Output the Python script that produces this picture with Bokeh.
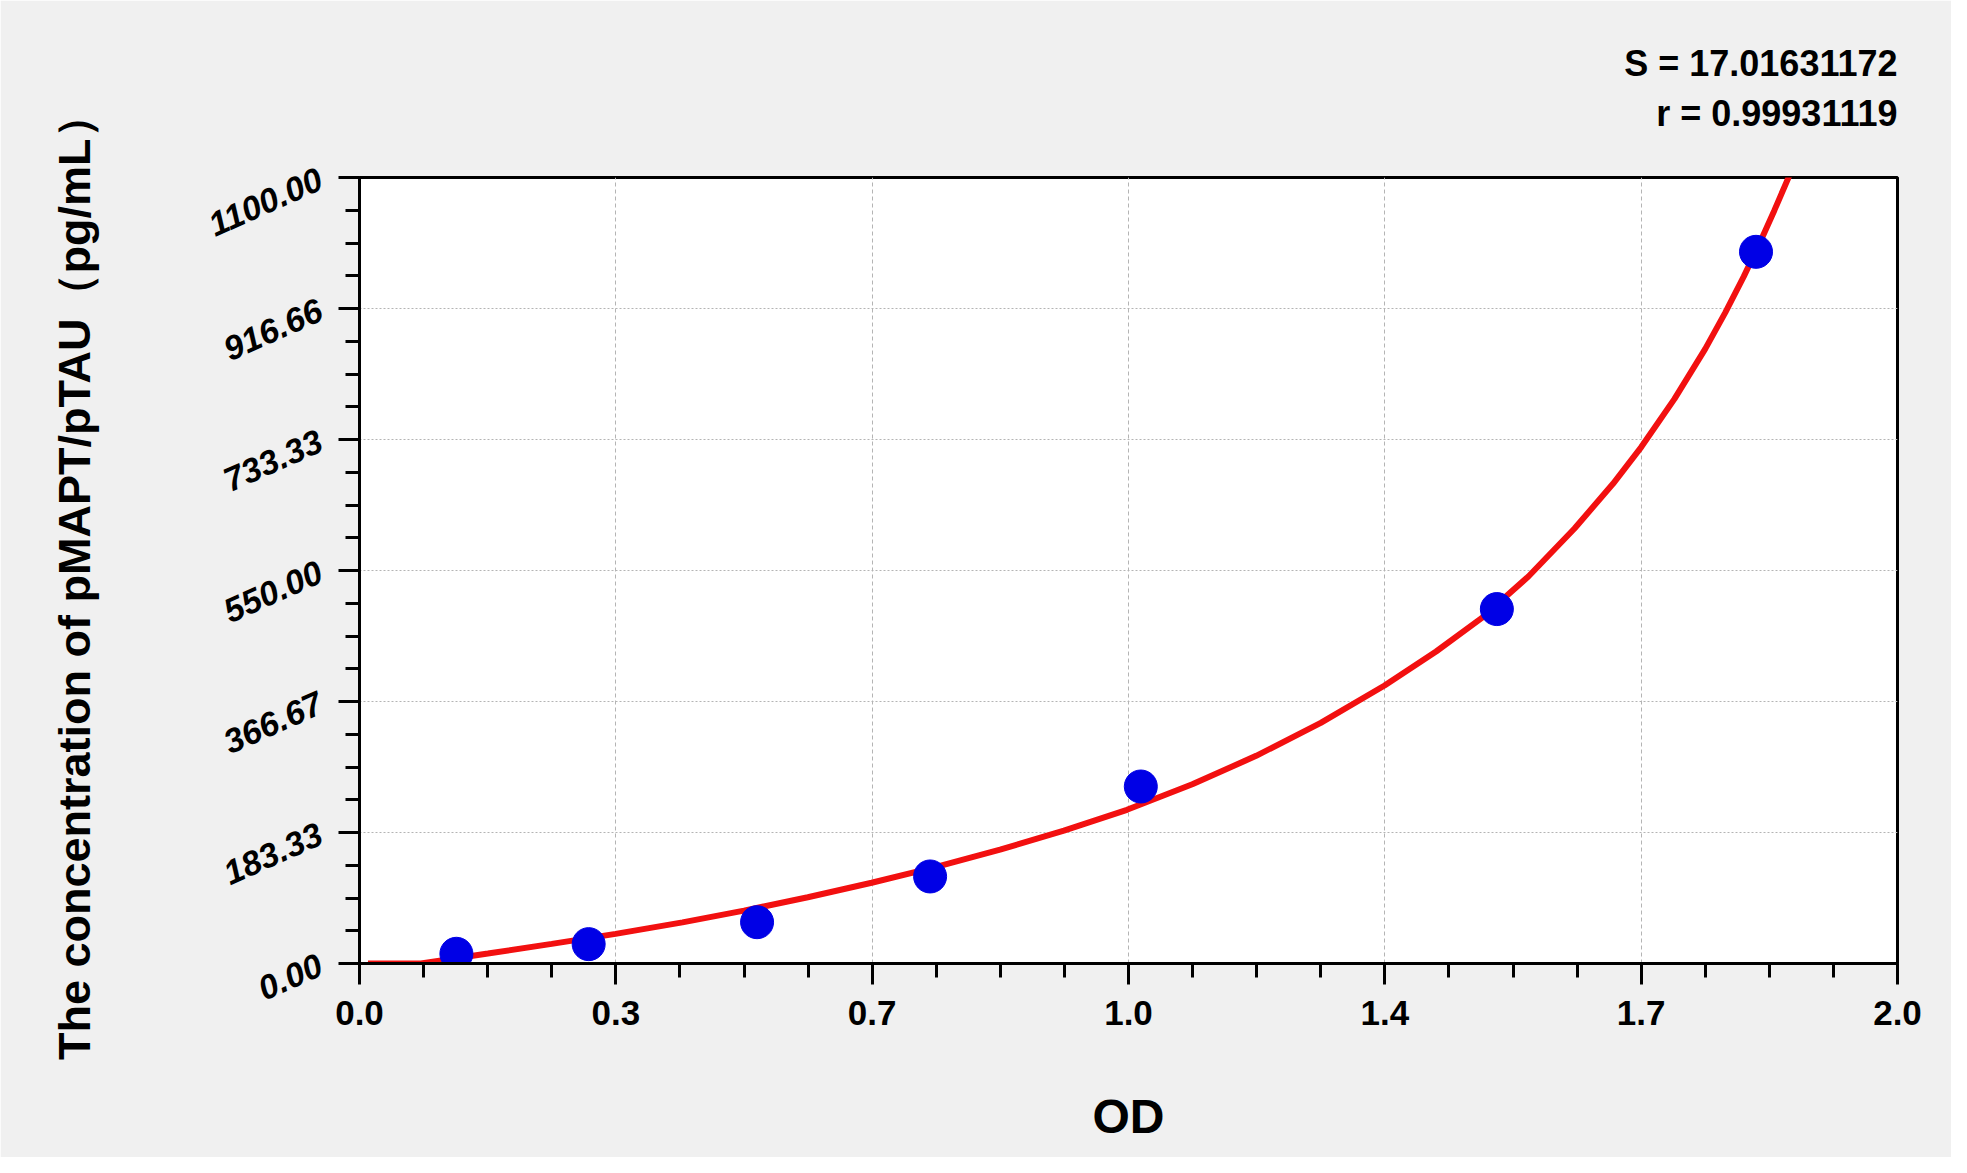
import numpy as np
from bokeh.plotting import figure
from bokeh.models import Range1d, FixedTicker, Title
from bokeh.embed import file_html
from bokeh.resources import INLINE

# standard points (OD, concentration pg/mL)
od_points = [0.126, 0.298, 0.517, 0.742, 1.016, 1.479, 1.816]
conc_points = [13.6, 27.1, 57.8, 121.8, 247.7, 496.0, 996.0]

# fitted curve
od_fit = [0.011, 0.080, 0.167, 0.250, 0.333, 0.420, 0.500, 0.583, 0.666, 0.750,
          0.833, 0.916, 0.998, 1.083, 1.166, 1.250, 1.333, 1.400, 1.460, 1.520,
          1.580, 1.630, 1.667, 1.710, 1.750, 1.776, 1.800, 1.820, 1.840, 1.860,
          1.867]
conc_fit = [0.0, 0.0, 14.0, 27.5, 41.5, 57.6, 74.0, 92.7, 113.0, 135.3,
            159.4, 186.0, 215.1, 250.8, 290.6, 336.8, 389.1, 436.7, 484.1, 541.6,
            608.8, 671.3, 723.1, 790.2, 860.2, 910.9, 961.3, 1006.3, 1054.3, 1104.3,
            1122.2]

x_tick_labels = ["0.0", "0.3", "0.7", "1.0", "1.4", "1.7", "2.0"]
y_tick_labels = ["0.00", "183.33", "366.67", "550.00", "733.33", "916.66", "1100.00"]

stat_lines = ["S = 17.01631172", "r = 0.99931119"]

FONT = "Liberation Sans"

p = figure(width=1951, height=1157, x_range=Range1d(0, 2), y_range=Range1d(0, 1100),
           output_backend="svg", toolbar_location=None, title=None,
           min_border_left=359, min_border_right=54, min_border_top=177, min_border_bottom=194)

p.border_fill_color = "#F0F0F0"
p.background_fill_color = "white"
p.outline_line_color = "black"
p.outline_line_width = 3

# ticks: 6 major intervals, 4 minor per major
x_major = list(np.linspace(0, 2, 7))
y_major = list(np.linspace(0, 1100, 7))
x_minor = list(np.linspace(0, 2, 25))
y_minor = list(np.linspace(0, 1100, 25))
p.xaxis.ticker = FixedTicker(ticks=x_major, minor_ticks=x_minor)
p.yaxis.ticker = FixedTicker(ticks=y_major, minor_ticks=y_minor)
p.xaxis.major_label_overrides = {float(t): l for t, l in zip(x_major, x_tick_labels)}
p.yaxis.major_label_overrides = {float(t): l for t, l in zip(y_major, y_tick_labels)}

for ax in (p.xaxis, p.yaxis):
    ax.axis_line_width = 3
    ax.axis_line_color = "black"
    ax.major_tick_line_width = 3
    ax.minor_tick_line_width = 3
    ax.major_tick_in = 0
    ax.minor_tick_in = 0
    ax.major_tick_out = 21
    ax.minor_tick_out = 14
    ax.major_label_text_font = FONT
    ax.major_label_text_font_style = "bold"
    ax.major_label_text_color = "black"
    ax.axis_label_text_font = FONT
    ax.axis_label_text_font_style = "bold"
    ax.axis_label_text_color = "black"

p.xaxis.major_label_text_font_size = "35px"
p.xaxis.major_label_standoff = 16
p.xaxis.axis_label = "OD"
p.xaxis.axis_label_text_font_size = "48px"
p.xaxis.axis_label_standoff = 62

p.yaxis.major_label_text_font_size = "34px"
p.yaxis.major_label_text_font_style = "bold italic"
p.yaxis.major_label_orientation = 0.42
p.yaxis.major_label_standoff = 18
p.yaxis.axis_label = "The concentration of  pMAPT/pTAU\uff08pg/mL\uff09"
p.yaxis.axis_label_text_font_size = "45px"
p.yaxis.axis_label_standoff = 98

p.xgrid.grid_line_color = "#B4B4B4"
p.xgrid.grid_line_dash = "4 3"
p.ygrid.grid_line_color = "#B4B4B4"
p.ygrid.grid_line_dash = "2 2"

p.line(od_fit, conc_fit, line_color="#F21010", line_width=6)
p.scatter(od_points, conc_points, size=33, fill_color="#0000E6", line_color="#0000E6")

# fit statistics, right aligned above the frame (first added sits nearest the frame)
for txt, gap in zip(reversed(stat_lines), [88, -74]):
    p.add_layout(Title(text=txt, align="right", text_font=FONT, text_font_style="bold",
                       text_font_size="36px", text_color="black", standoff=gap), "above")

open("out.html", "w").write(file_html(p, INLINE))
